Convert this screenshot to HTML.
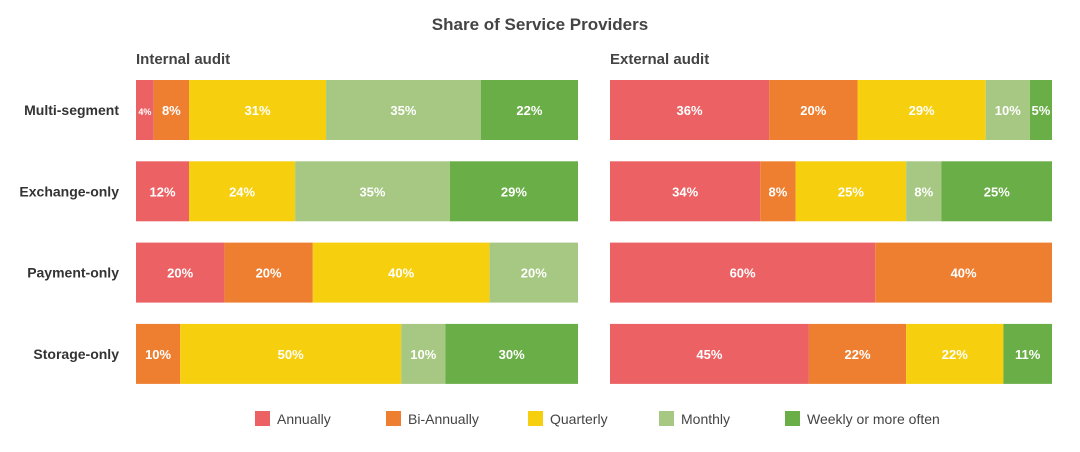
<!DOCTYPE html>
<html><head><meta charset="utf-8"><style>
body{margin:0;background:#fff;font-family:"Liberation Sans",sans-serif}
svg text{font-family:"Liberation Sans",sans-serif}
</style></head><body>
<svg id="c" width="1080" height="447">
<text x="540" y="30" text-anchor="middle" font-size="17" font-weight="bold" fill="#444">Share of Service Providers</text>
<text x="136" y="64" font-size="15" font-weight="bold" fill="#444">Internal audit</text>
<text x="610" y="64" font-size="15" font-weight="bold" fill="#444">External audit</text>
</svg>
<script>
const categories=["Multi-segment","Exchange-only","Payment-only","Storage-only"];
const seriesNames=["Annually","Bi-Annually","Quarterly","Monthly","Weekly or more often"];
const colors=["#ec6264","#ee7f31","#f6cf0e","#a6c883","#6aae47"];
const internalAnnually=[4,12,20,0];
const internalBiAnnually=[8,0,20,10];
const internalQuarterly=[31,24,40,50];
const internalMonthly=[35,35,20,10];
const internalWeekly=[22,29,0,30];
const externalAnnually=[36,34,60,45];
const externalBiAnnually=[20,8,40,22];
const externalQuarterly=[29,25,0,22];
const externalMonthly=[10,8,0,0];
const externalWeekly=[5,25,0,11];
const svg=document.getElementById('c');const NS="http://www.w3.org/2000/svg";
function el(t,a){const e=document.createElementNS(NS,t);for(const k in a)e.setAttribute(k,a[k]);svg.appendChild(e);return e;}
const rowY=i=>80+i*81.3;const barH=60;
function panel(x0,w,series,name){
 categories.forEach((c,i)=>{
  const vals=series.map(s=>s[i]);const tot=vals.reduce((a,b)=>a+b,0);
  let x=x0;
  vals.forEach((v,j)=>{
   if(!v)return;const ww=v/tot*w;
   const r=el('rect',{x:x,y:rowY(i),width:ww,height:barH,fill:colors[j]});
   
   
   const t=el('text',{x:x+ww/2,y:rowY(i)+barH/2+5,'text-anchor':'middle','font-size':v<5?9:13,'font-weight':'bold',fill:'#fff'});
   t.textContent=v+'%';
   
   
   x+=ww;
  });
 });
}
categories.forEach((c,i)=>{
 const t=el('text',{x:119,y:rowY(i)+barH/2+5,'text-anchor':'end','font-size':14,'font-weight':'bold',fill:'#333'});
 t.textContent=c;
 
 
});
panel(136,442,[internalAnnually,internalBiAnnually,internalQuarterly,internalMonthly,internalWeekly],'internal');
panel(610,442,[externalAnnually,externalBiAnnually,externalQuarterly,externalMonthly,externalWeekly],'external');
const lx=[255,386,528,659,785];
seriesNames.forEach((n,j)=>{
 const r=el('rect',{x:lx[j],y:411,width:15,height:15,fill:colors[j]});
 
 
 const t=el('text',{x:lx[j]+22,y:424,'font-size':14,fill:'#444'});
 t.textContent=n;
 
 
});
</script>
</body></html>
